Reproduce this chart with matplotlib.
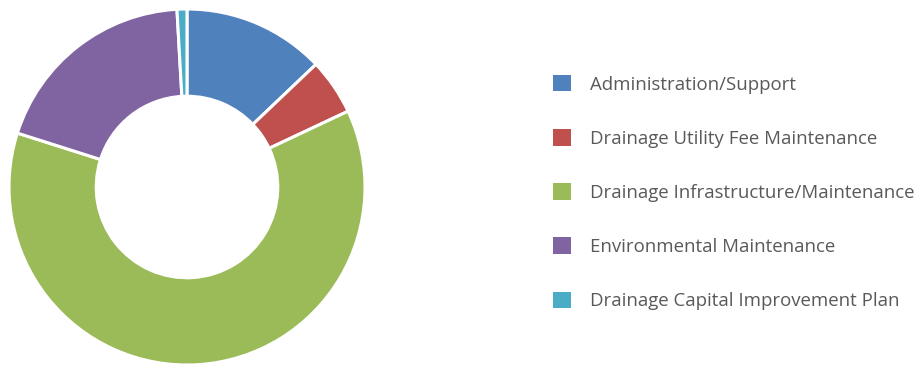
import matplotlib
matplotlib.use("Agg")
import matplotlib.pyplot as plt
from matplotlib.patches import Patch

plt.rcParams['font.family'] = ['Open Sans', 'DejaVu Sans']

# budget share by program (percent)
programs = [
    "Administration/Support",
    "Drainage Utility Fee Maintenance",
    "Drainage Infrastructure/Maintenance",
    "Environmental Maintenance",
    "Drainage Capital Improvement Plan",
]
shares = [12.9, 5.1, 61.9, 19.2, 0.9]
colors = ["#4F81BD", "#C0504D", "#9BBB59", "#8064A2", "#4BACC6"]

fig = plt.figure(figsize=(9.19, 3.65), dpi=100)
ax = fig.add_axes([9 / 919, 0 / 365, 356 / 919, 356 / 365])

ax.pie(shares, colors=colors, startangle=90, counterclock=False,
       radius=1.0,
       wedgeprops=dict(width=0.49, edgecolor="white", linewidth=2.2))
ax.set_xlim(-1, 1)
ax.set_ylim(-1, 1)
ax.set_aspect("equal")

handles = [Patch(facecolor=c, edgecolor="none") for c in colors]
fig.legend(handles, programs, loc="upper left",
           bbox_to_anchor=(553 / 919, 1 - 75 / 365),
           frameon=False, fontsize=13.4, labelcolor="#595959",
           handlelength=0.98, handleheight=0.98, handletextpad=1.03,
           labelspacing=1.91, borderpad=0, borderaxespad=0)

fig.savefig("out.png", dpi=100)
